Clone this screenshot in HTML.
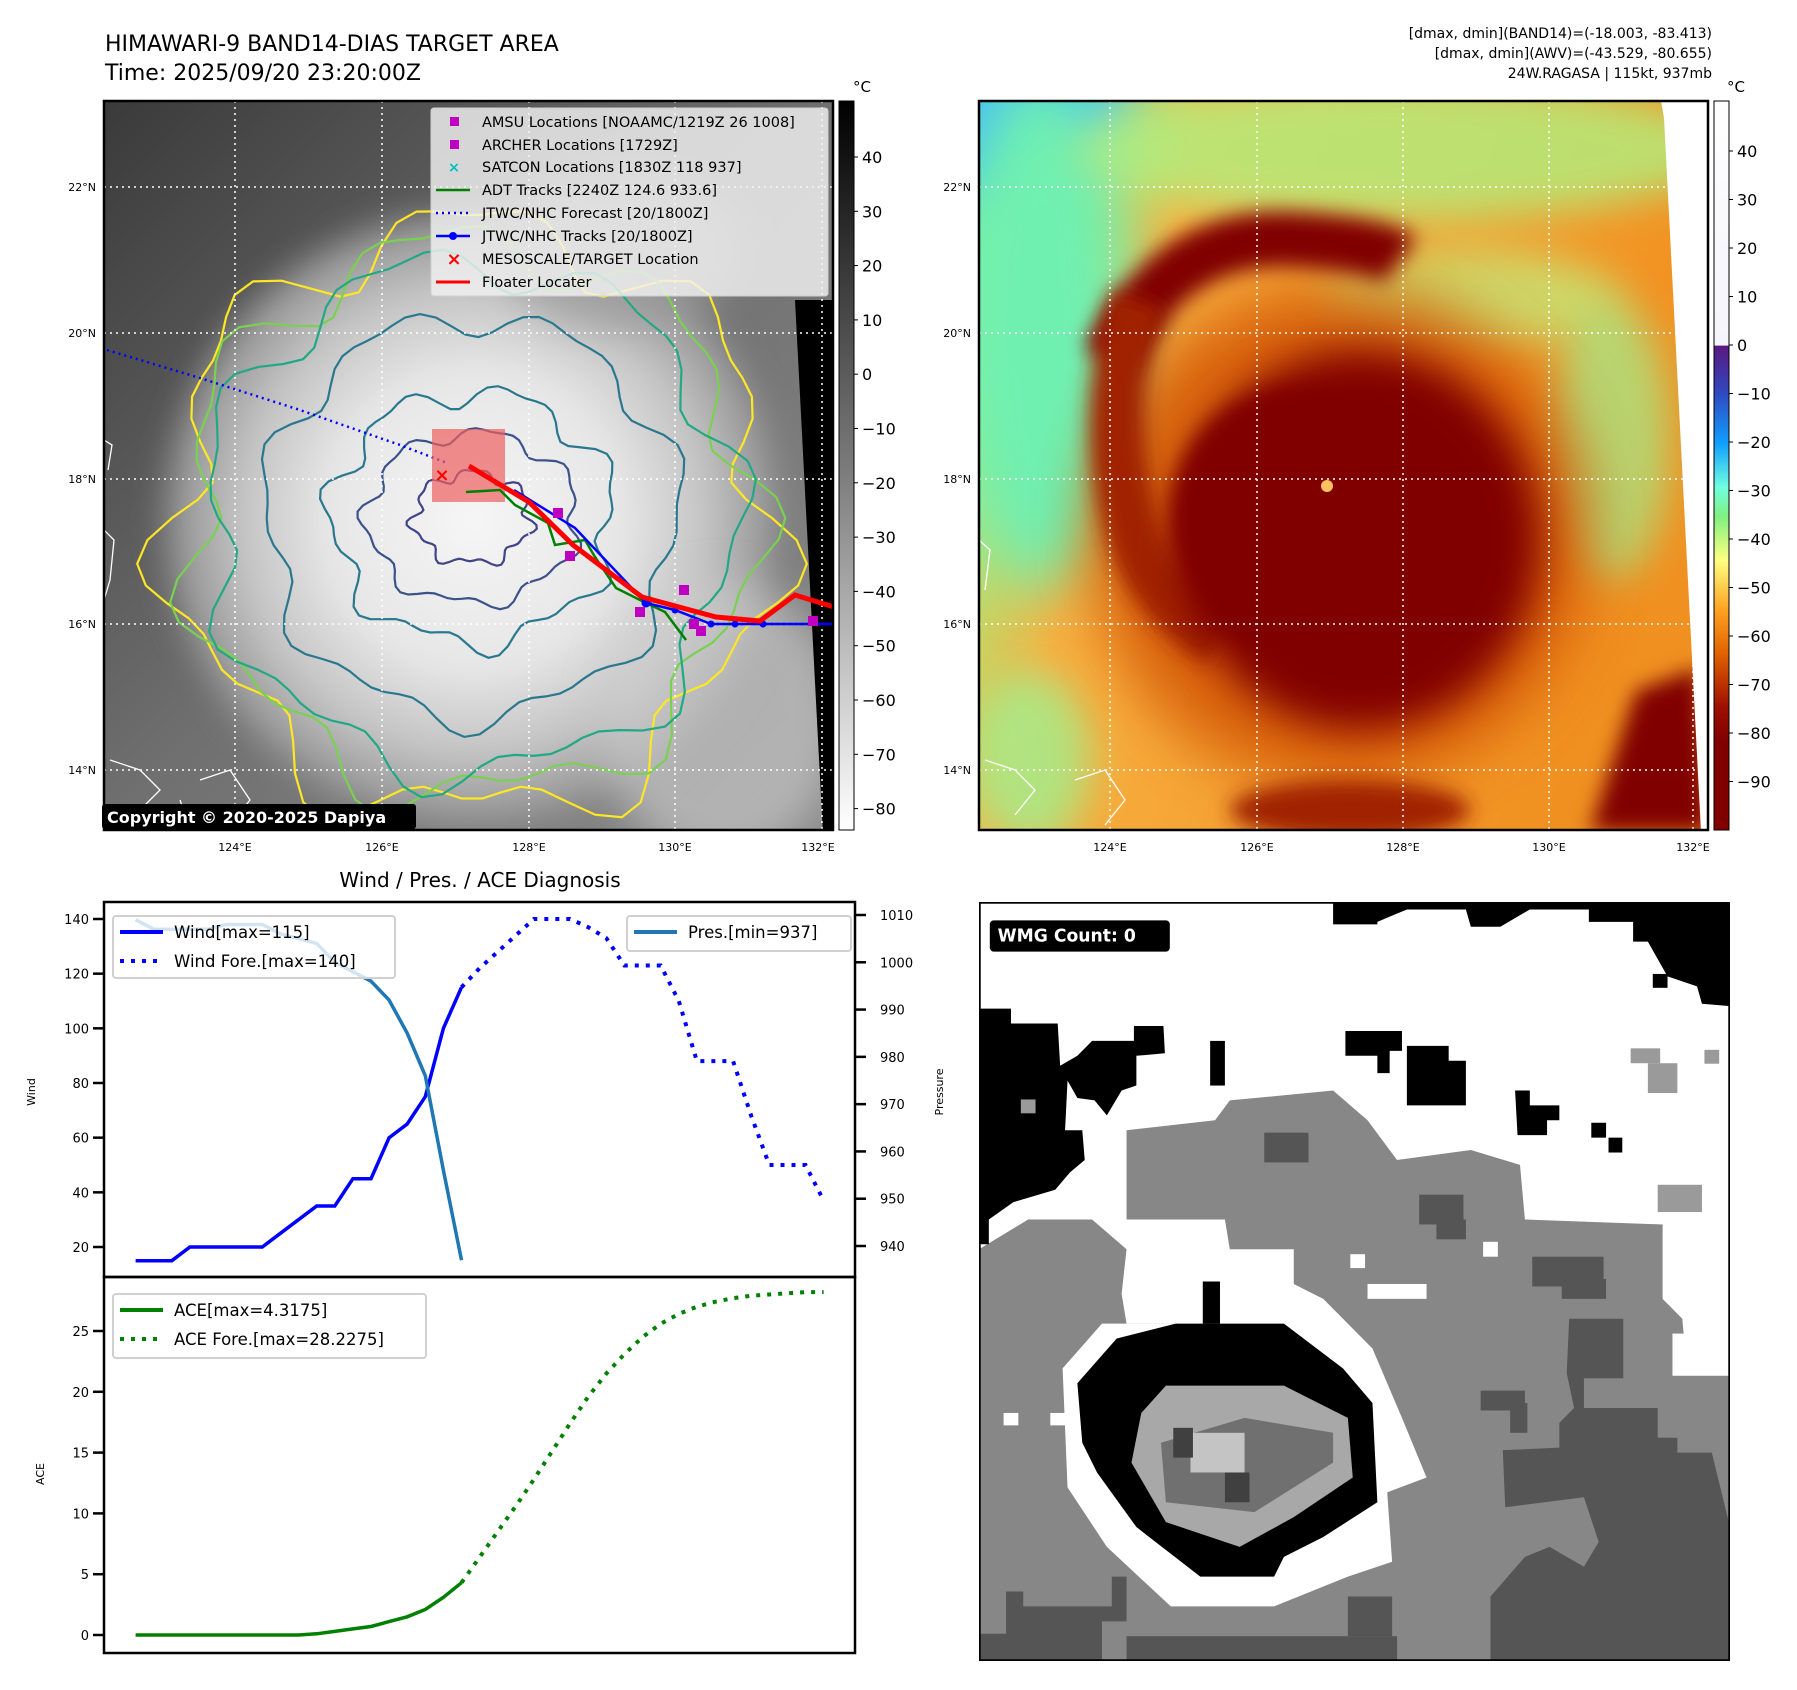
<!DOCTYPE html>
<html><head><meta charset="utf-8">
<style>
html,body{margin:0;padding:0;background:#fff;}
svg{display:block;font-family:"DejaVu Sans","Liberation Sans",sans-serif;}
</style></head>
<body>
<svg id="fig" width="1797" height="1690" viewBox="0 0 1797 1690" xmlns="http://www.w3.org/2000/svg">
<defs>
  <clipPath id="clipL"><rect x="104" y="101" width="729" height="729"/></clipPath>
  <clipPath id="clipR"><rect x="979" y="101" width="729" height="729"/></clipPath>
  <linearGradient id="bgL" x1="0" y1="0" x2="1" y2="1">
    <stop offset="0" stop-color="#3a3a3a"/><stop offset="0.5" stop-color="#707070"/><stop offset="1" stop-color="#8a8a8a"/>
  </linearGradient>
  <radialGradient id="cloudL" cx="0.5" cy="0.5" r="0.5">
    <stop offset="0" stop-color="#f6f6f6"/><stop offset="0.45" stop-color="#e6e6e6"/><stop offset="0.7" stop-color="#c4c4c4"/><stop offset="0.88" stop-color="#9a9a9a"/><stop offset="1" stop-color="#808080" stop-opacity="0"/>
  </radialGradient>
  <linearGradient id="cbL" x1="0" y1="0" x2="0" y2="1">
    <stop offset="0" stop-color="#000"/><stop offset="0.5" stop-color="#7a7a7a"/><stop offset="1" stop-color="#fff"/>
  </linearGradient>
  <linearGradient id="cbR" x1="0" y1="0" x2="0" y2="1">
    <stop offset="0" stop-color="#ffffff"/><stop offset="0.335" stop-color="#f4f4fa"/>
    <stop offset="0.336" stop-color="#5a1880"/><stop offset="0.40" stop-color="#3048c0"/>
    <stop offset="0.47" stop-color="#10a0ff"/><stop offset="0.53" stop-color="#70ffe0"/>
    <stop offset="0.57" stop-color="#80f080"/><stop offset="0.63" stop-color="#ffff80"/>
    <stop offset="0.70" stop-color="#ffa020"/><stop offset="0.76" stop-color="#e06000"/>
    <stop offset="0.83" stop-color="#a01000"/><stop offset="0.88" stop-color="#800000"/><stop offset="1" stop-color="#800000"/>
  </linearGradient>
  <linearGradient id="bgR" x1="0" y1="0" x2="1" y2="0.3">
    <stop offset="0" stop-color="#70f0a0"/><stop offset="0.12" stop-color="#a0f080"/><stop offset="0.3" stop-color="#f8b040"/><stop offset="1" stop-color="#f09020"/>
  </linearGradient>
  <filter id="blur20" x="-60%" y="-60%" width="220%" height="220%"><feGaussianBlur stdDeviation="20"/></filter>
  <filter id="blur10" x="-60%" y="-60%" width="220%" height="220%"><feGaussianBlur stdDeviation="10"/></filter>
  <filter id="blur30" x="-60%" y="-60%" width="220%" height="220%"><feGaussianBlur stdDeviation="30"/></filter>
</defs>

<!-- titles -->
<text x="105" y="51" font-size="22" fill="#000">HIMAWARI-9 BAND14-DIAS TARGET AREA</text>
<text x="105" y="80" font-size="22" fill="#000">Time: 2025/09/20 23:20:00Z</text>
<g font-size="14" text-anchor="end" fill="#000">
  <text x="1712" y="38">[dmax, dmin](BAND14)=(-18.003, -83.413)</text>
  <text x="1712" y="58">[dmax, dmin](AWV)=(-43.529, -80.655)</text>
  <text x="1712" y="78">24W.RAGASA | 115kt, 937mb</text>
</g>

<!-- LEFT MAP -->
<g>
 <g clip-path="url(#clipL)">
  <rect x="104" y="101" width="729" height="729" fill="url(#bgL)"/>
  <ellipse cx="474" cy="520" rx="330" ry="330" fill="url(#cloudL)" filter="url(#blur10)"/>
  <ellipse cx="720" cy="720" rx="120" ry="140" fill="#d0d0d0" opacity="0.6" filter="url(#blur20)"/>
  <ellipse cx="620" cy="250" rx="120" ry="80" fill="#9a9a9a" opacity="0.7" filter="url(#blur20)"/>
  <g id="contours" fill="none" stroke-width="2.2"></g>
  <polygon points="795,300 840,300 840,835 823,835" fill="#000"/>
  <g stroke="#fff" stroke-width="1.5" stroke-dasharray="2,4">
   <line x1="235" y1="101" x2="235" y2="830"/><line x1="382" y1="101" x2="382" y2="830"/><line x1="529" y1="101" x2="529" y2="830"/><line x1="675" y1="101" x2="675" y2="830"/><line x1="822" y1="101" x2="822" y2="830"/>
   <line x1="104" y1="187" x2="833" y2="187"/><line x1="104" y1="333" x2="833" y2="333"/><line x1="104" y1="479" x2="833" y2="479"/><line x1="104" y1="624" x2="833" y2="624"/><line x1="104" y1="770" x2="833" y2="770"/>
  </g>
  <polyline points="107,350 200,378 300,410 400,445 447,463" fill="none" stroke="#0000ff" stroke-width="2.5" stroke-dasharray="2,4"/>
  <polyline points="711,624 834,624" fill="none" stroke="#0000ff" stroke-width="2.5" stroke-dasharray="2,4"/>
  <rect x="432" y="429" width="73" height="73" fill="#f06060" opacity="0.7"/>
  <polyline points="466,492 500,490 515,505 548,523 555,545 585,540 595,557 616,588 640,600 665,612 686,640" fill="none" stroke="#008000" stroke-width="2.5"/>
  <polyline points="514,490 575,528 646,603 675,610 711,624 834,624" fill="none" stroke="#0000ff" stroke-width="2.5"/>
  <g fill="#0000ff"><circle cx="646" cy="603" r="4.5"/><circle cx="675" cy="610" r="3.5"/><circle cx="711" cy="624" r="3.5"/><circle cx="735" cy="624" r="3.5"/><circle cx="763" cy="624" r="3.5"/></g>
  <polyline points="469,466 529,502 573,545 642,597 716,617 760,621 795,595 834,607" fill="none" stroke="#ff0000" stroke-width="5"/>
  <g fill="#c000c0">
   <rect x="553" y="508" width="10" height="10"/><rect x="565" y="551" width="10" height="10"/><rect x="635" y="607" width="10" height="10"/><rect x="679" y="585" width="10" height="10"/><rect x="689" y="619" width="10" height="10"/><rect x="696" y="626" width="10" height="10"/><rect x="808" y="616" width="10" height="10"/>
  </g>
  <text x="442" y="481" font-size="18" font-weight="bold" fill="#ff0000" text-anchor="middle">×</text>
  <path d="M104,440 L112,445 L108,470 M104,530 L114,540 L110,580 L104,600 M110,760 L140,770 L160,790 L140,810 M200,780 L230,770 L250,800 L230,825 M180,800 L190,830" fill="none" stroke="#fff" stroke-width="1.3"/>
 </g>
 <rect x="104" y="101" width="729" height="729" fill="none" stroke="#000" stroke-width="2.5"/>
 <g>
  <rect x="431" y="108" width="397" height="188" rx="3" fill="#f2f2f2" fill-opacity="0.82" stroke="#d0d0d0"/>
  <g font-size="14.5" fill="#000">
   <rect x="450" y="117" width="9" height="9" fill="#c000c0"/><text x="482" y="127">AMSU Locations [NOAAMC/1219Z 26 1008]</text>
   <rect x="450" y="140" width="9" height="9" fill="#c000c0"/><text x="482" y="150">ARCHER Locations [1729Z]</text>
   <text x="454" y="172" fill="#00c0c0" text-anchor="middle" font-weight="bold">×</text><text x="482" y="172">SATCON Locations [1830Z 118 937]</text>
   <line x1="436" y1="190" x2="470" y2="190" stroke="#008000" stroke-width="2.5"/><text x="482" y="195">ADT Tracks [2240Z 124.6 933.6]</text>
   <line x1="436" y1="213" x2="470" y2="213" stroke="#0000ff" stroke-width="2.5" stroke-dasharray="2,4"/><text x="482" y="218">JTWC/NHC Forecast [20/1800Z]</text>
   <line x1="436" y1="236" x2="470" y2="236" stroke="#0000ff" stroke-width="2.5"/><circle cx="453" cy="236" r="4" fill="#0000ff"/><text x="482" y="241">JTWC/NHC Tracks [20/1800Z]</text>
   <text x="454" y="265" fill="#ff0000" text-anchor="middle" font-weight="bold" font-size="18">×</text><text x="482" y="264">MESOSCALE/TARGET Location</text>
   <line x1="436" y1="282" x2="470" y2="282" stroke="#ff0000" stroke-width="3"/><text x="482" y="287">Floater Locater</text>
  </g>
 </g>
 <rect x="102" y="804" width="314" height="25" rx="3" fill="#000"/>
 <text x="107" y="823" font-size="16" font-weight="bold" fill="#fff">Copyright © 2020-2025 Dapiya</text>
 <g font-size="11" fill="#000" text-anchor="end">
  <text x="96" y="191">22°N</text><text x="96" y="337">20°N</text><text x="96" y="483">18°N</text><text x="96" y="628">16°N</text><text x="96" y="774">14°N</text>
 </g>
 <g font-size="11" fill="#000" text-anchor="middle">
  <text x="235" y="851">124°E</text><text x="382" y="851">126°E</text><text x="529" y="851">128°E</text><text x="675" y="851">130°E</text><text x="818" y="851">132°E</text>
 </g>
 <rect x="839" y="101" width="15" height="729" fill="url(#cbL)" stroke="#000" stroke-width="1"/>
 <text x="853" y="92" font-size="15">°C</text>
 <g id="cbLticks" font-size="16" fill="#000"></g>
</g>

<!-- RIGHT MAP -->
<g>
 <g clip-path="url(#clipR)">
  <rect x="979" y="101" width="729" height="729" fill="url(#bgR)"/>
  <ellipse cx="990" cy="110" rx="140" ry="90" fill="#40b8ff" filter="url(#blur30)"/>
  <ellipse cx="1040" cy="330" rx="90" ry="260" fill="#70f0b0" filter="url(#blur30)"/>
  <ellipse cx="1400" cy="150" rx="330" ry="70" fill="#b0f080" opacity="0.8" filter="url(#blur20)"/>
  <ellipse cx="1470" cy="300" rx="150" ry="50" fill="#c0f080" opacity="0.7" filter="url(#blur20)"/>
  <ellipse cx="1610" cy="440" rx="60" ry="140" fill="#a0f090" opacity="0.7" filter="url(#blur20)"/>
  <ellipse cx="1030" cy="760" rx="60" ry="90" fill="#a0f090" opacity="0.8" filter="url(#blur20)"/>
  <ellipse cx="1340" cy="535" rx="250" ry="250" fill="#d05000" opacity="0.8" filter="url(#blur30)"/>
  <path d="M1110,360 Q1170,230 1300,240 Q1380,245 1400,260" fill="none" stroke="#800000" stroke-width="55" filter="url(#blur10)"/>
  <path d="M1140,300 Q1100,400 1130,520 Q1150,600 1220,640" fill="none" stroke="#a02000" stroke-width="55" filter="url(#blur10)"/>
  <ellipse cx="1360" cy="540" rx="180" ry="190" fill="#800000" filter="url(#blur20)"/>
  <ellipse cx="1290" cy="520" rx="120" ry="130" fill="#800000" filter="url(#blur10)"/>
  <polygon points="1636,691 1699,668 1710,832 1590,832" fill="#800000" filter="url(#blur10)"/>
  <ellipse cx="1350" cy="810" rx="120" ry="30" fill="#a02000" filter="url(#blur10)"/>
  <circle cx="1327" cy="486" r="6" fill="#ffc060"/>
  <polygon points="1661,101 1712,101 1712,832 1701,832 1664,118" fill="#fff"/>
  <g stroke="#fff" stroke-width="1.5" stroke-dasharray="2,4">
   <line x1="1110" y1="101" x2="1110" y2="830"/><line x1="1257" y1="101" x2="1257" y2="830"/><line x1="1403" y1="101" x2="1403" y2="830"/><line x1="1549" y1="101" x2="1549" y2="830"/><line x1="1693" y1="101" x2="1693" y2="830"/>
   <line x1="979" y1="187" x2="1708" y2="187"/><line x1="979" y1="333" x2="1708" y2="333"/><line x1="979" y1="479" x2="1708" y2="479"/><line x1="979" y1="624" x2="1708" y2="624"/><line x1="979" y1="770" x2="1708" y2="770"/>
  </g>
  <path d="M985,760 L1015,770 L1035,790 L1015,815 M1075,780 L1105,770 L1125,800 L1105,825 M979,540 L990,550 L985,590" fill="none" stroke="#fff" stroke-width="1.3"/>
 </g>
 <rect x="979" y="101" width="729" height="729" fill="none" stroke="#000" stroke-width="2.5"/>
 <g font-size="11" fill="#000" text-anchor="end">
  <text x="971" y="191">22°N</text><text x="971" y="337">20°N</text><text x="971" y="483">18°N</text><text x="971" y="628">16°N</text><text x="971" y="774">14°N</text>
 </g>
 <g font-size="11" fill="#000" text-anchor="middle">
  <text x="1110" y="851">124°E</text><text x="1257" y="851">126°E</text><text x="1403" y="851">128°E</text><text x="1549" y="851">130°E</text><text x="1693" y="851">132°E</text>
 </g>
 <rect x="1714" y="101" width="15" height="729" fill="url(#cbR)" stroke="#000" stroke-width="1"/>
 <text x="1727" y="92" font-size="15">°C</text>
 <g id="cbRticks" font-size="16" fill="#000"></g>
</g>

<!-- WMG PANEL -->
<svg x="979" y="902" width="751" height="759" viewBox="0 0 1527 1530" preserveAspectRatio="none">
 <rect x="0" y="0" width="1527" height="1530" fill="#878787"/>
 <polygon fill="#fff" points="0,0 1527,0 1527,950 1440,950 1430,840 1390,800 1390,650 1110,640 1100,530 1000,500 850,520 790,440 720,380 510,400 480,440 300,460 300,640 500,640 510,700 640,700 640,800 500,850 300,850 290,790 300,700 230,640 100,640 0,700"/>
 <polygon fill="#fff" points="170,940 250,850 400,850 640,770 700,800 800,900 860,1040 910,1160 830,1190 840,1330 750,1360 600,1420 390,1420 260,1300 180,1180"/>
 <polygon fill="#000" points="200,970 280,880 400,850 620,850 740,940 800,1010 810,1210 700,1280 620,1320 600,1360 450,1360 320,1260 240,1150 210,1090"/>
 <polygon fill="#a8a8a8" points="330,1030 380,975 620,975 750,1040 760,1160 640,1240 530,1300 380,1250 310,1130"/>
 <polygon fill="#707070" points="370,1090 540,1040 720,1070 720,1130 560,1230 380,1210"/>
 <rect x="430" y="1070" width="110" height="80" fill="#c4c4c4"/>
 <rect x="395" y="1060" width="40" height="60" fill="#404040"/><rect x="500" y="1150" width="50" height="60" fill="#404040"/>
 <polygon fill="#000" points="0,215 65,215 65,245 160,245 165,330 200,310 230,280 315,280 315,250 375,250 378,305 320,310 320,370 290,380 260,430 235,400 200,395 180,360 175,460 210,460 215,520 185,545 155,580 70,605 20,640 20,690 0,690"/>
 <rect x="85" y="398" width="30" height="28" fill="#9a9a9a"/>
 <polygon fill="#000" points="720,0 1527,0 1527,210 1470,205 1460,170 1400,150 1360,80 1330,80 1330,40 1240,40 1240,15 1120,15 1060,50 1000,50 990,15 870,15 810,40 810,45 720,45"/>
 <rect x="1370" y="145" width="30" height="28" fill="#000"/>
 <rect x="470" y="280" width="30" height="90" fill="#000"/>
 <polygon fill="#000" points="745,260 860,260 860,300 835,300 835,345 810,345 810,310 745,310"/>
 <polygon fill="#000" points="870,290 955,290 955,320 990,320 990,410 870,410"/>
 <polygon fill="#000" points="1090,380 1120,380 1120,410 1180,410 1180,440 1155,440 1155,470 1095,470"/>
 <rect x="1245" y="445" width="30" height="30" fill="#000"/><rect x="1280" y="475" width="28" height="30" fill="#000"/>
 <rect x="455" y="765" width="35" height="85" fill="#000"/>
 <g fill="#555">
  <rect x="580" y="465" width="90" height="60"/><rect x="895" y="590" width="90" height="60"/><rect x="930" y="640" width="60" height="40"/>
  <rect x="1125" y="715" width="145" height="60"/><rect x="1185" y="760" width="90" height="40"/>
  <polygon points="1200,840 1310,840 1310,960 1230,960 1230,1020 1380,1020 1380,1080 1420,1080 1420,1110 1490,1110 1527,1260 1527,1530 1040,1530 1040,1400 1110,1320 1160,1300 1230,1340 1260,1290 1230,1200 1070,1220 1065,1105 1180,1100 1180,1050 1210,1020 1195,950"/>
  <polygon points="55,1390 90,1390 90,1420 270,1420 270,1360 300,1360 300,1450 250,1450 250,1530 0,1530 0,1475 55,1475"/>
  <rect x="300" y="1480" width="550" height="50"/><rect x="750" y="1400" width="90" height="80"/>
  <rect x="1020" y="985" width="90" height="40"/><rect x="1080" y="1010" width="35" height="60"/>
 </g>
 <g fill="#9a9a9a"><rect x="1325" y="295" width="60" height="30"/><rect x="1360" y="325" width="60" height="60"/><rect x="1475" y="298" width="30" height="28"/><rect x="1380" y="570" width="90" height="55"/></g>
 <g fill="#fff"><rect x="1410" y="870" width="117" height="85"/><rect x="790" y="770" width="120" height="30"/><rect x="1025" y="685" width="30" height="30"/><rect x="755" y="710" width="30" height="28"/><rect x="50" y="1030" width="30" height="25"/><rect x="145" y="1030" width="30" height="25"/></g>
 <rect x="1.5" y="1.5" width="1524" height="1527" fill="none" stroke="#000" stroke-width="4"/>
 <rect x="22" y="37" width="366" height="63" rx="8" fill="#000"/>
 <text x="38" y="80" font-size="35" font-weight="bold" fill="#fff">WMG Count: 0</text>
</svg>

<!-- CHART -->
<text x="480" y="887" font-size="20" text-anchor="middle" fill="#000">Wind / Pres. / ACE Diagnosis</text>
<g id="chart"></g>
</svg>

<script>
// ---- chart data ----
const windObs = [15,15,15,20,20,20,20,20,25,30,35,35,45,45,60,65,75,100,115];
const windFore = [115,122,128,134,140,140,140,137,133,123,123,123,110,88,88,88,68,50,50,50,37];
const presObs = [1009,1007,1007,1007,1007,1008,1008,1008,1006,1005,1004,1000,998,996,992,985,976,956,937];
const aceObs = [0,0,0,0,0,0,0,0,0,0,0.1,0.3,0.5,0.7,1.1,1.5,2.1,3.1,4.3];
const aceFore = [4.3,6.4,8.5,10.6,12.8,15.1,17.4,19.6,21.5,23.1,24.5,25.6,26.4,27.0,27.4,27.7,27.9,28.0,28.1,28.2,28.2];
const windTicks = [20,40,60,80,100,120,140];
const presTicks = [940,950,960,970,980,990,1000,1010];
const aceTicks = [0,5,10,15,20,25];
const cbLeftTicks = [40,30,20,10,0,-10,-20,-30,-40,-50,-60,-70,-80];
const cbRightTicks = [40,30,20,10,0,-10,-20,-30,-40,-50,-60,-70,-80,-90];

const NS = "http://www.w3.org/2000/svg";
function mk(tag, attrs, parent){const e=document.createElementNS(NS,tag);for(const k in attrs)e.setAttribute(k,attrs[k]);parent.appendChild(e);return e;}

const L=104,R=855,T=902,M=1277,B=1653;
const xS = i => 135.6 + i*(461.5-135.6)/18;
const yWind = v => 1247 + (v-20)*(919-1247)/120;
const yPres = v => 1246 + (v-940)*(915-1246)/70;
const yAce = v => 1635 + v*(1331-1635)/25;

const chart = document.getElementById('chart');
function line(arr, off, ys, color, w, dash, name){
  const pts = arr.map((v,i)=>xS(i+off).toFixed(1)+','+ys(v).toFixed(1)).join(' ');
  const p = mk('polyline',{points:pts,fill:'none',stroke:color,'stroke-width':w},chart);
  if(dash){p.setAttribute('stroke-dasharray',dash);}
  
  
}
mk('rect',{x:L,y:T,width:R-L,height:B-T,fill:'#fff'},chart);
line(windObs,0,yWind,'#0000ff',3.5,null,'wind-observed-line');
line(windFore,18,yWind,'#0000ff',4,'4,7','wind-forecast-line');
line(presObs,0,yPres,'#1f77b4',3.5,null,'pressure-line');
line(aceObs,0,yAce,'#008000',3.5,null,'ace-observed-line');
line(aceFore,18,yAce,'#008000',4,'4,7','ace-forecast-line');

mk('rect',{x:L,y:T,width:R-L,height:M-T,fill:'none',stroke:'#000','stroke-width':2.5},chart);
mk('rect',{x:L,y:M,width:R-L,height:B-M,fill:'none',stroke:'#000','stroke-width':2.5},chart);

function ticks(vals, ys, side, name){
  const g = mk('g',{},chart);
  
  
  vals.forEach(v=>{
    const y = ys(v);
    if(side==='l'){
      mk('line',{x1:L-11,y1:y,x2:L,y2:y,stroke:'#000','stroke-width':2.5},g);
      const t=mk('text',{x:L-15,y:y+5,'font-size':13,'text-anchor':'end'},g);t.textContent=v;
    } else {
      mk('line',{x1:R,y1:y,x2:R+11,y2:y,stroke:'#000','stroke-width':2.5},g);
      const t=mk('text',{x:R+25,y:y+5,'font-size':13},g);t.textContent=v;
    }
  });
}
ticks(windTicks,yWind,'l','wind-axis-ticks');
ticks(presTicks,yPres,'r','pressure-axis-ticks');
ticks(aceTicks,yAce,'l','ace-axis-ticks');

function vlabel(txt,x,y,name){
  const t=mk('text',{x:x,y:y,'font-size':11,'text-anchor':'middle',transform:'rotate(-90 '+x+' '+y+')'},chart);
  t.textContent=txt;
  
  
}
vlabel('Wind',35,1092,'wind-axis-title');
vlabel('Pressure',943,1092,'pressure-axis-title');
vlabel('ACE',44,1474,'ace-axis-title');

function legend(x,y,w,h,items,name){
  const g=mk('g',{},chart);
  
  
  mk('rect',{x:x,y:y,width:w,height:h,rx:3,fill:'#fff','fill-opacity':0.8,stroke:'#d0d0d0','stroke-width':2},g);
  items.forEach((it,i)=>{
    const cy=y+16+i*29;
    const ln=mk('line',{x1:x+7,y1:cy,x2:x+50,y2:cy,stroke:it.c,'stroke-width':4},g);
    if(it.d)ln.setAttribute('stroke-dasharray',it.d);
    const t=mk('text',{x:x+61,y:cy+6,'font-size':16.5},g);t.textContent=it.t;
  });
}
legend(113,916,282,62,[{c:'#0000ff',t:'Wind[max=115]'},{c:'#0000ff',t:'Wind Fore.[max=140]',d:'4,7'}],'wind-legend');
legend(627,916,224,35,[{c:'#1f77b4',t:'Pres.[min=937]'}],'pressure-legend');
legend(113,1294,313,64,[{c:'#008000',t:'ACE[max=4.3175]'},{c:'#008000',t:'ACE Fore.[max=28.2275]',d:'4,7'}],'ace-legend');

const cbL=document.getElementById('cbLticks');
cbLeftTicks.forEach(v=>{const y=157+(40-v)*5.43;mk('line',{x1:854,y1:y,x2:858,y2:y,stroke:'#000'},cbL);const t=mk('text',{x:862,y:y+6},cbL);t.textContent=(v<0?'\u2212'+(-v):v);});
const cbR=document.getElementById('cbRticks');
cbRightTicks.forEach(v=>{const y=151+(40-v)*4.85;mk('line',{x1:1729,y1:y,x2:1733,y2:y,stroke:'#000'},cbR);const t=mk('text',{x:1737,y:y+6},cbR);t.textContent=(v<0?'\u2212'+(-v):v);});

const cg=document.getElementById('contours');
const rings=[[300,292,'#fde725',0.09],[282,275,'#7ad151',0.08],[262,255,'#22a884',0.07],[205,200,'#2a788e',0.06],[140,125,'#2a788e',0.08],[105,85,'#3b528b',0.07],[58,45,'#414487',0.1]];
rings.forEach((r,k)=>{
  let d='';
  for(let a=0;a<=360;a+=4){
    const th=a*Math.PI/180;
    const w=1+r[3]*Math.sin(7*th+k)+r[3]*0.6*Math.sin(13*th+2*k);
    const x=472+r[0]*w*Math.cos(th), y=518+r[1]*w*Math.sin(th);
    d+=(a?'L':'M')+x.toFixed(1)+','+y.toFixed(1);
  }
  mk('path',{d:d,stroke:r[2]},cg);
});
</script>
</body></html>
